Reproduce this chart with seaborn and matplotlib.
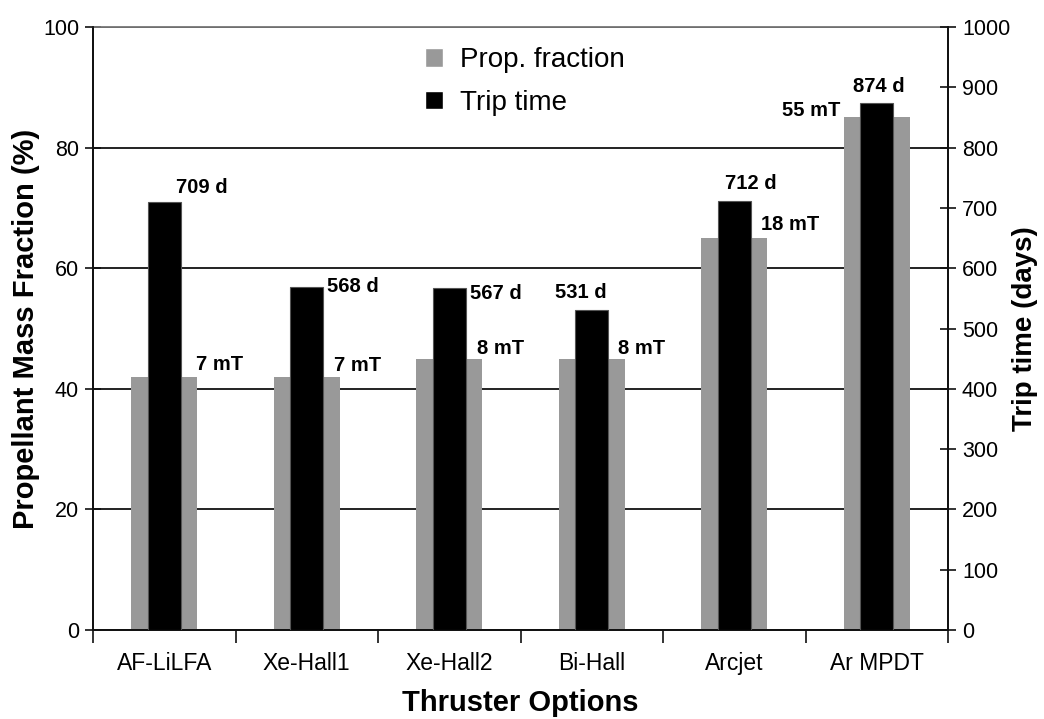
import numpy as np
import pandas as pd
import matplotlib
matplotlib.use("Agg")
import matplotlib.pyplot as plt
from matplotlib.patches import Patch
import seaborn as sns

sns.set_style("white")
plt.rcParams["font.family"] = ["Liberation Sans", "DejaVu Sans"]
plt.rcParams["text.color"] = "black"
plt.rcParams["axes.labelcolor"] = "black"
plt.rcParams["xtick.color"] = "black"
plt.rcParams["ytick.color"] = "black"

thrusters = ["AF-LiLFA", "Xe-Hall1", "Xe-Hall2", "Bi-Hall", "Arcjet", "Ar MPDT"]
prop_fraction = [42, 42, 45, 45, 65, 85]
trip_days = [709, 568, 567, 531, 712, 874]
mass_labels = ["7 mT", "7 mT", "8 mT", "8 mT", "18 mT", "55 mT"]

# label offsets in pixels (dx, dy) from bar top centre
day_offsets = [(38, 15), (46, 1), (47, -5), (-11, 17), (17, 17), (2, 16)]
mass_offsets = [(55, 12), (51, 11), (51, 10), (50, 10), (56, 14), (-66, 7)]

df = pd.DataFrame({"Thruster": thrusters, "Prop": prop_fraction, "Days": trip_days})

fig = plt.figure(figsize=(10.44, 7.19), dpi=100)
ax = fig.add_axes([93 / 1044, 89 / 719, 855 / 1044, 603 / 719])

sns.barplot(data=df, x="Thruster", y="Prop", color="#999999", width=0.46,
            saturation=1, linewidth=0, ax=ax, zorder=2)
ax.set_ylim(0, 100)
ax.set_xlim(-0.5, len(thrusters) - 0.5)
ax.set_yticks(np.arange(0, 101, 20))
ax.grid(axis="y", color="#111111", linewidth=1.3)
ax.set_axisbelow(True)

ax2 = ax.twinx()
sns.barplot(data=df, x="Thruster", y="Days", color="black", width=0.23,
            saturation=1, linewidth=0.8, edgecolor="#555555", ax=ax2, zorder=3)
ax2.set_ylim(0, 1000)
ax2.set_yticks(np.arange(0, 1001, 100))
ax2.set_xlim(-0.5, len(thrusters) - 0.5)

for a in (ax, ax2):
    for s in ["left", "right", "bottom"]:
        a.spines[s].set_color("#111111")
        a.spines[s].set_linewidth(1.3)
ax.spines["top"].set_color("#777777")
ax.spines["top"].set_linewidth(1.3)
ax2.spines["top"].set_visible(False)

# x ticks: marks at category boundaries, labels at centres
ax.set_xticks(np.arange(-0.5, len(thrusters)), labels=[""] * (len(thrusters) + 1))
ax.set_xticks(np.arange(len(thrusters)), labels=thrusters, minor=True)
ax.tick_params(axis="x", which="major", direction="out", length=9, width=1.2,
               color="#111111", bottom=True)
ax.tick_params(axis="x", which="minor", length=0, pad=16, labelsize=16.5)
ax.tick_params(axis="y", direction="inout", length=12, width=1.2, color="#111111",
               labelsize=15.5, pad=4, left=True)
ax2.tick_params(axis="y", direction="inout", length=12, width=1.2, color="#111111",
                labelsize=15.5, pad=4, right=True)

ax.set_xlabel("Thruster Options", fontsize=21, fontweight="bold", labelpad=10)
ax.set_ylabel("Propellant Mass Fraction (%)", fontsize=21, fontweight="bold", labelpad=2)
ax2.set_ylabel("Trip time (days)", fontsize=20, fontweight="bold", labelpad=1)

for i, (d, lab, off) in enumerate(zip(trip_days, trip_days, day_offsets)):
    ax2.annotate(f"{lab} d", xy=(i, d), xytext=(off[0] * 0.72, off[1] * 0.72),
                 textcoords="offset points", ha="center", va="center",
                 fontsize=14.5, fontweight="bold", zorder=5)
for i, (p, lab, off) in enumerate(zip(prop_fraction, mass_labels, mass_offsets)):
    ax.annotate(lab, xy=(i, p), xytext=(off[0] * 0.72, off[1] * 0.72),
                textcoords="offset points", ha="center", va="center",
                fontsize=14.5, fontweight="bold", zorder=5)

handles = [Patch(facecolor="#999999", label="Prop. fraction"),
           Patch(facecolor="black", label="Trip time")]
ax2.legend(handles=handles, loc="upper left", bbox_to_anchor=(400 / 1044, 697 / 719),
           bbox_transform=fig.transFigure, frameon=False, fontsize=20,
           handlelength=0.65, handleheight=0.65, handletextpad=0.6, labelspacing=0.6)

fig.savefig("out.png", dpi=100)
